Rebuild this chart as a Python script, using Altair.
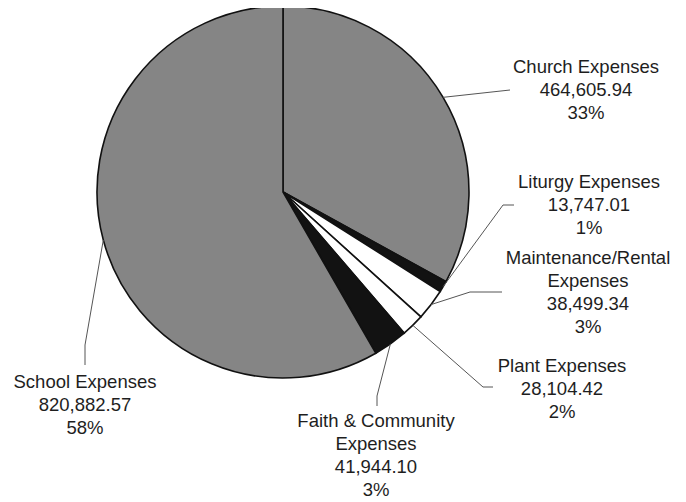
import math
import altair as alt
import pandas as pd

# ---- data ----
names = ["Church Expenses", "Liturgy Expenses", "Maintenance/Rental Expenses",
         "Plant Expenses", "Faith & Community Expenses", "School Expenses"]
label_lines = [["Church Expenses"], ["Liturgy Expenses"], ["Maintenance/Rental", "Expenses"],
               ["Plant Expenses"], ["Faith & Community", "Expenses"], ["School Expenses"]]
values = [464605.94, 13747.01, 38499.34, 28104.42, 41944.10, 820882.57]

# ---- styles / layout (page pixels) ----
fills = ["#858585", "#121212", "#ffffff", "#ffffff", "#121212", "#858585"]
M = 8
CX, CY, R = 283, 192, 186
label_anchor = [(586, 67), (589, 182), (588, 258), (562, 366), (376, 421), (85, 382)]
leader_path = [[(510, 90)], [(503, 205), (514, 205)], [(470, 292), (502, 292)],
               [(483, 387), (493, 387)], [(377, 396), (377, 406)], [(85, 345), (85, 365)]]
LINE_H = 23
FONT = "Liberation Sans"

total = sum(values)
pie = pd.DataFrame({"name": names, "value": values, "idx": list(range(len(names)))})

# text rows
trows = []
for i, (nm, v) in enumerate(zip(names, values)):
    lines = label_lines[i] + [f"{v:,.2f}", f"{round(v / total * 100):.0f}%"]
    ax, ay = label_anchor[i]
    for j, t in enumerate(lines):
        trows.append({"t": t, "x": ax - M, "y": ay + j * LINE_H - M})
tdf = pd.DataFrame(trows)

# leader lines
rrows = []
cum = 0.0
for i, v in enumerate(values):
    mid = (cum + v / 2) / total * 2 * math.pi
    cum += v
    pts = [(CX + R * math.sin(mid), CY - R * math.cos(mid))] + leader_path[i]
    for a, b in zip(pts[:-1], pts[1:]):
        rrows.append({"x": a[0] - M, "y": a[1] - M, "x2": b[0] - M, "y2": b[1] - M})
rdf = pd.DataFrame(rrows)

arcs = alt.Chart(pie).mark_arc(outerRadius=R, stroke="#111111", strokeWidth=1.6).encode(
    theta=alt.Theta("value:Q", stack=True),
    order=alt.Order("idx:Q"),
    color=alt.Color("name:N", scale=alt.Scale(domain=names, range=fills), legend=None),
    x=alt.value(CX - M),
    y=alt.value(CY - M),
)

leaders = alt.Chart(rdf).mark_rule(color="#555555", strokeWidth=1).encode(
    x=alt.X("x:Q", scale=None), y=alt.Y("y:Q", scale=None),
    x2="x2:Q", y2="y2:Q",
)

texts = alt.Chart(tdf).mark_text(font=FONT, fontSize=18.5, color="#1e1e1e",
                                 align="center", baseline="middle").encode(
    x=alt.X("x:Q", scale=None), y=alt.Y("y:Q", scale=None), text="t:N",
)

chart = alt.layer(arcs, leaders, texts).properties(
    width=670, height=494, autosize=alt.AutoSizeParams(type="none"), padding=0,
    background="#ffffff",
).configure_view(strokeWidth=0)

chart.save("out.html", embed_options={"renderer": "svg", "actions": False})
